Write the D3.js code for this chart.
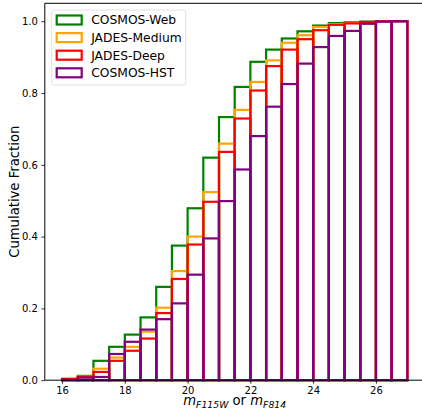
<!DOCTYPE html>
<html>
<head>
<meta charset="utf-8">
<script src="https://cdn.jsdelivr.net/npm/d3@7/dist/d3.min.js"></script>
<style>
  html, body { margin: 0; padding: 0; background: #fff; }
  svg text { font-family: "DejaVu Sans", sans-serif; fill: #000; }
</style>
</head>
<body>
<svg id="chart" width="422" height="416"></svg>
<script>
// Bin edges of the magnitude histogram (width 0.5 mag)
const binEdges = [16, 16.5, 17, 17.5, 18, 18.5, 19, 19.5, 20, 20.5, 21, 21.5,
                  22, 22.5, 23, 23.5, 24, 24.5, 25, 25.5, 26, 26.5, 27];

// Cumulative fraction per bin for each survey
const cosmosWeb   = [0.002, 0.012, 0.054, 0.093, 0.127, 0.175, 0.260, 0.375, 0.479, 0.620, 0.733,
                     0.817, 0.887, 0.921, 0.952, 0.972, 0.988, 0.995, 0.997, 0.999, 1.000, 1.000];
const jadesMedium = [0.002, 0.010, 0.032, 0.063, 0.093, 0.135, 0.202, 0.304, 0.400, 0.524, 0.659,
                     0.753, 0.831, 0.891, 0.940, 0.961, 0.984, 0.992, 0.995, 0.998, 1.000, 1.000];
const jadesDeep   = [0.004, 0.009, 0.023, 0.054, 0.082, 0.116, 0.187, 0.282, 0.378, 0.497, 0.636,
                     0.729, 0.807, 0.875, 0.921, 0.950, 0.975, 0.990, 0.994, 0.998, 1.000, 1.000];
const cosmosHst   = [0.001, 0.007, 0.009, 0.073, 0.107, 0.141, 0.170, 0.214, 0.294, 0.395, 0.499,
                     0.587, 0.680, 0.762, 0.825, 0.882, 0.928, 0.959, 0.973, 0.993, 0.999, 1.000];

const seriesNames  = ["COSMOS-Web", "JADES-Medium", "JADES-Deep", "COSMOS-HST"];
const seriesValues = [cosmosWeb, jadesMedium, jadesDeep, cosmosHst];
const seriesColors = ["green", "orange", "red", "purple"];

const xTicks = [16, 18, 20, 22, 24, 26];
const yTicks = [0.0, 0.2, 0.4, 0.6, 0.8, 1.0];

const svg = d3.select("#chart");
const plotLeft = 44.8, plotRight = 424.6, plotTop = 3.3, plotBottom = 380.2;

const x = d3.scaleLinear().domain([15.45, 27.55]).range([plotLeft, plotRight]);
const y = d3.scaleLinear().domain([0, 1.05]).range([plotBottom, plotTop]);

// Unfilled histogram bars, one rectangle per bin, later series on top
const bars = svg.append("g");
seriesValues.forEach((vals, si) => {
  bars.append("g")
    .selectAll("rect")
    .data(vals.map((v, i) => ({ x0: binEdges[i], x1: binEdges[i + 1], v })))
    .join("rect")
      .attr("x", d => x(d.x0))
      .attr("y", d => y(d.v))
      .attr("width", d => x(d.x1) - x(d.x0))
      .attr("height", d => y(0) - y(d.v))
      .attr("fill", "none")
      .attr("stroke", seriesColors[si])
      .attr("stroke-width", 2.2);
});

// Axes
const xAxis = d3.axisBottom(x).tickValues(xTicks).tickSize(3.5).tickPadding(3.5)
  .tickFormat(d3.format("d"));
const yAxis = d3.axisLeft(y).tickValues(yTicks).tickSize(3.5).tickPadding(3.5)
  .tickFormat(d3.format(".1f"));

const gx = svg.append("g").attr("transform", `translate(0,${plotBottom})`).call(xAxis);
const gy = svg.append("g").attr("transform", `translate(${plotLeft},0)`).call(yAxis);
[gx, gy].forEach(g => {
  g.select(".domain").remove();
  g.selectAll(".tick line").attr("stroke", "#000").attr("stroke-width", 0.8);
  g.selectAll(".tick text").attr("font-size", 10).attr("font-family", "DejaVu Sans").attr("fill", "#000");
});

// Spines
const spines = svg.append("g").attr("stroke", "#000").attr("stroke-width", 1).attr("fill", "none");
spines.append("line").attr("x1", plotLeft).attr("x2", plotLeft).attr("y1", plotTop).attr("y2", plotBottom);
spines.append("line").attr("x1", plotLeft).attr("x2", plotRight).attr("y1", plotBottom).attr("y2", plotBottom);
spines.append("line").attr("x1", plotLeft).attr("x2", plotRight).attr("y1", plotTop).attr("y2", plotTop);
spines.append("line").attr("x1", plotRight).attr("x2", plotRight).attr("y1", plotTop).attr("y2", plotBottom);

// Axis labels
svg.append("text")
  .attr("transform", `translate(19,${(plotTop + plotBottom) / 2}) rotate(-90)`)
  .attr("text-anchor", "middle")
  .attr("font-size", 13.2)
  .text("Cumulative Fraction");

const xl = svg.append("text")
  .attr("x", (plotLeft + plotRight) / 2)
  .attr("y", 405)
  .attr("text-anchor", "middle")
  .attr("font-size", 13.2);
xl.append("tspan").attr("font-style", "italic").text("m");
xl.append("tspan").attr("font-style", "italic").attr("font-size", 9.3).attr("dy", 2.6).text("F115W");
xl.append("tspan").attr("dy", -2.6).text(" or ");
xl.append("tspan").attr("font-style", "italic").text("m");
xl.append("tspan").attr("font-style", "italic").attr("font-size", 9.3).attr("dy", 2.6).text("F814");

// Legend
const lg = svg.append("g").attr("transform", "translate(51.7,10)");
lg.append("rect")
  .attr("x", 0).attr("y", 0).attr("width", 134).attr("height", 75)
  .attr("rx", 2.5).attr("ry", 2.5)
  .attr("fill", "#fff").attr("fill-opacity", 0.8)
  .attr("stroke", "#d9d9d9").attr("stroke-width", 0.8);
seriesNames.forEach((name, i) => {
  const cy = 10 + i * 17.6;
  lg.append("rect")
    .attr("x", 5).attr("y", cy - 4.5).attr("width", 25).attr("height", 9)
    .attr("fill", "none").attr("stroke", seriesColors[i]).attr("stroke-width", 2.2);
  lg.append("text")
    .attr("x", 39.5).attr("y", cy + 4.4)
    .attr("font-size", 12.3)
    .text(name);
});
</script>
</body>
</html>
